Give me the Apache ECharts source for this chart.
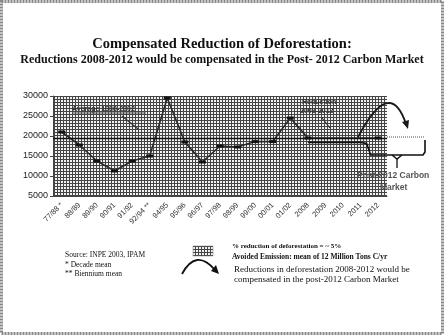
<!DOCTYPE html>
<html><head><meta charset="utf-8">
<script src="https://cdn.jsdelivr.net/npm/echarts@6/dist/echarts.min.js"></script>
<style>html,body{margin:0;padding:0;background:#fff}#c{width:444px;height:336px}</style>
</head><body><div id="c"></div>
<script>
const categories = ["77/88 *","88/89","89/90","90/91","91/92","92/94 **","94/95","95/96","96/97","97/98","98/99","99/00","00/01","01/02","2008","2009","2010","2011","2012"];
const deforestation = [21000,17750,13750,11250,13750,15000,29500,18500,13500,17500,17250,18600,18600,24500,19500,null,null,null,19500];
const reducedLevel = [null,null,null,null,null,null,null,null,null,null,null,null,null,null,18400,18400,18400,18400,null];
const meanValue = 19500;
const yMin = 5000, yMax = 30000, yStep = 5000;

const serif = '"Liberation Serif","DejaVu Serif",serif';
const sans = '"Liberation Sans","DejaVu Sans",sans-serif';

function hatch(){
  const c = document.createElement('canvas'); c.width = 3; c.height = 3;
  const g = c.getContext('2d');
  g.fillStyle = '#f2f2f2'; g.fillRect(0,0,3,3);
  g.fillStyle = '#444'; g.fillRect(0,0,3,1); g.fillRect(0,0,1,3);
  return c;
}
const pat = {image: hatch(), repeat: 'repeat'};

const chart = echarts.init(document.getElementById('c'), null, {renderer:'canvas'});
chart.setOption({
  animation:false,
  backgroundColor:'#fff',
  title:[
    {text:'Compensated Reduction of Deforestation:', left:'center', top:32,
     textStyle:{fontFamily:serif, fontSize:14.5, fontWeight:'bold', color:'#111'}},
    {text:'Reductions 2008-2012 would be compensated in the Post- 2012 Carbon Market', left:'center', top:49,
     textStyle:{fontFamily:serif, fontSize:12, fontWeight:'bold', color:'#111'}}
  ],
  grid:{left:53, right:57, top:96, bottom:140, show:true, backgroundColor:pat, borderWidth:0},
  xAxis:{type:'category', data:categories, boundaryGap:true,
    axisLine:{lineStyle:{color:'#444'}}, axisTick:{show:false},
    axisLabel:{rotate:45, fontSize:7.5, fontFamily:sans, color:'#333', margin:8, interval:0}},
  yAxis:{type:'value', min:yMin, max:yMax, interval:yStep,
    axisLine:{show:true, lineStyle:{color:'#444'}}, axisTick:{show:true, length:3, lineStyle:{color:'#444'}},
    splitLine:{show:false},
    axisLabel:{fontSize:9, fontFamily:sans, color:'#222', margin:5, formatter:v => String(v)}},
  series:[
    {type:'line', data:deforestation, connectNulls:true, symbol:'rect', symbolSize:[7,3],
     lineStyle:{color:'#2a2a2a', width:1.6}, itemStyle:{color:'#111'},
     markLine:{silent:true, symbol:'none', label:{show:false},
       lineStyle:{color:'#111', width:1.4, type:'solid'}, data:[{yAxis:meanValue}]}},
    {type:'line', data:reducedLevel, symbol:'none', lineStyle:{color:'#111', width:1.6}}
  ]
});

// annotations anchored to data positions
const P = (c,v) => chart.convertToPixel({gridIndex:0}, [c, v]);
const p11 = P('2011', reducedLevel[17]);
const pMean = P('2012', meanValue);
const yLow = P('2012', 15250)[1];
const rx = 425;
const ann = [];
// bracket
ann.push({type:'polyline', shape:{points:[[p11[0],p11[1]],[p11[0]+6,p11[1]+1],[p11[0]+10,yLow],[rx-2,yLow],[rx,yLow-3],[rx,pMean[1]+2]]},
  style:{stroke:'#111', lineWidth:1.6, fill:null}});
ann.push({type:'polyline', shape:{points:[[392,yLow],[397,yLow+4],[402,yLow]]}, style:{stroke:'#111', lineWidth:1.4, fill:null}});
ann.push({type:'line', shape:{x1:397, y1:yLow+4, x2:397, y2:yLow+13}, style:{stroke:'#222', lineWidth:1.4}});
// dotted continuation of mean
ann.push({type:'line', shape:{x1:387, y1:pMean[1]-1, x2:rx, y2:pMean[1]-1}, style:{stroke:'#555', lineWidth:1.2, lineDash:[1,1]}});
// arc with arrow
const s = P('2011', 19800), e = [406, 124];
ann.push({type:'bezierCurve', shape:{x1:s[0]-3, y1:s[1]+1, cpx1:390, cpy1:76, x2:e[0], y2:e[1]}, style:{stroke:'#1a1a1a', lineWidth:1.8, fill:null}});
ann.push({type:'polygon', shape:{points:[[e[0]+2,e[1]+5],[e[0]-4,e[1]-2],[e[0]+3,e[1]-4]]}, style:{fill:'#1a1a1a'}});
// in-plot labels and arrows
ann.push({type:'text', x:72, y:106, style:{text:'Average 1988-2002', font:'bold 7px '+sans, fill:'#333'}});
ann.push({type:'line', shape:{x1:72, y1:113, x2:146, y2:113}, style:{stroke:'#555', lineWidth:1}});
ann.push({type:'line', shape:{x1:122, y1:116, x2:138, y2:129}, style:{stroke:'#333', lineWidth:1.2}});
ann.push({type:'text', x:302, y:99, style:{text:'Reduction', font:'bold 7px '+sans, fill:'#333'}});
ann.push({type:'text', x:300, y:108, style:{text:'2008-2012', font:'bold 7px '+sans, fill:'#333'}});
ann.push({type:'line', shape:{x1:322, y1:118, x2:330, y2:128}, style:{stroke:'#333', lineWidth:1.2}});
ann.push({type:'text', x:357, y:171, style:{text:'Post-2012 Carbon', font:'bold 8.5px '+sans, fill:'#555'}});
ann.push({type:'text', x:380, y:183, style:{text:'Market', font:'bold 8.5px '+sans, fill:'#555'}});
// footer
const ft = (x,y,t,f,c) => ann.push({type:'text', x:x, y:y, style:{text:t, font:f, fill:c||'#111'}});
ft(65,251,'Source: INPE 2003, IPAM','7.5px '+serif);
ft(65,261,'* Decade mean','7.5px '+serif);
ft(65,270,'** Biennium mean','7.5px '+serif);
ann.push({type:'rect', shape:{x:193, y:246, width:20, height:10}, style:{fill:pat, stroke:'#777', lineWidth:0.5}});
ft(232,243,'% reduction of deforestation = ~ 5%','bold 7px '+serif);
ft(232,253,'Avoided Emission: mean of 12 Million Tons C/yr','bold 7.5px '+serif);
ft(234,265,'Reductions in deforestation 2008-2012 would be','9px '+serif);
ft(234,275,'compensated in the post-2012 Carbon Market','9px '+serif);
ann.push({type:'bezierCurve', shape:{x1:182, y1:274, cpx1:196, cpy1:248, x2:215, y2:270}, style:{stroke:'#111', lineWidth:1.8, fill:null}});
ann.push({type:'polygon', shape:{points:[[219,274],[211,271],[216,265]]}, style:{fill:'#111'}});
// frame
ann.push({type:'rect', shape:{x:1.5, y:1.5, width:441, height:332}, style:{fill:null, stroke:'#888', lineWidth:3, lineDash:[2,1]}});
chart.setOption({graphic:ann});
</script></body></html>
